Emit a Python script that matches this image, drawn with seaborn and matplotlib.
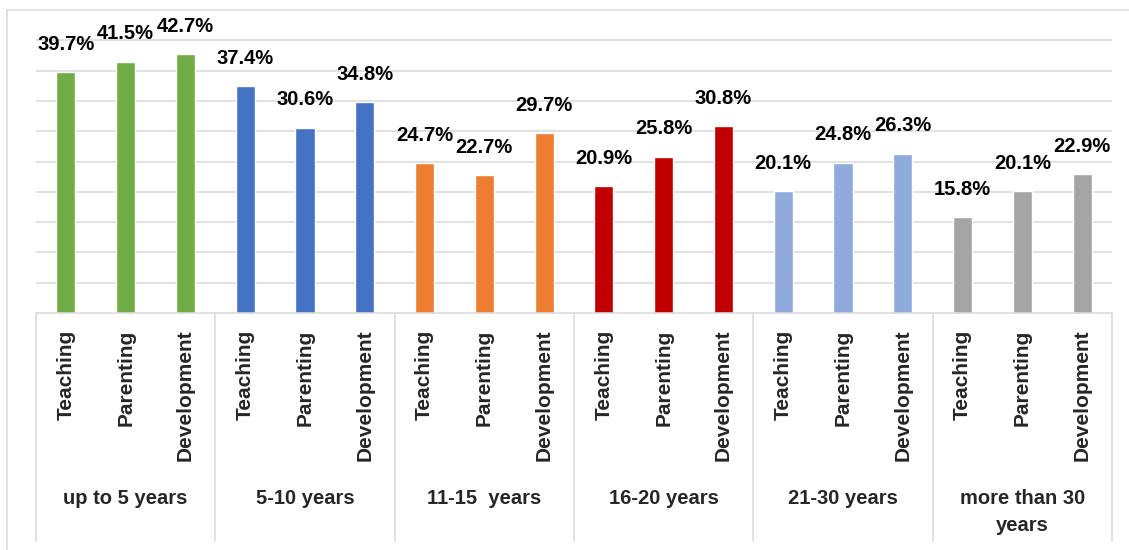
"""Grouped bar chart: teaching / parenting / development by years of experience."""

import matplotlib
matplotlib.use("Agg")
import matplotlib.pyplot as plt
from matplotlib.lines import Line2D
import pandas as pd
import seaborn as sns

groups = ["up to 5 years", "5-10 years", "11-15  years", "16-20 years",
          "21-30 years", "more than 30\nyears"]
aspects = ["Teaching", "Parenting", "Development"]
teaching = [39.7, 37.4, 24.7, 20.9, 20.1, 15.8]
parenting = [41.5, 30.6, 22.7, 25.8, 24.8, 20.1]
development = [42.7, 34.8, 29.7, 30.8, 26.3, 22.9]
group_colors = ["#70AD47", "#4472C4", "#ED7D31", "#C00000", "#8FAADC", "#A5A5A5"]

rows = []
for i, g in enumerate(groups):
    for a, vals in zip(aspects, [teaching, parenting, development]):
        rows.append({"group": g, "aspect": a, "slot": f"{i}-{a}", "value": vals[i]})
df = pd.DataFrame(rows)

sns.set_style("white")
plt.rcParams["font.family"] = ["Liberation Sans", "DejaVu Sans"]
grid_col = "#d9d9d9"

fig = plt.figure(figsize=(11.29, 5.5), dpi=100)
ax = fig.add_axes([36 / 1129, (550 - 313) / 550, (1112 - 36) / 1129, 303 / 550])

sns.barplot(data=df, x="slot", y="value", hue="group", palette=group_colors,
            dodge=False, width=0.32, legend=False, ax=ax, saturation=1)

ax.set_xlim(-0.5, len(df) - 0.5)
ax.set_ylim(0, 50)
ax.set_yticks(range(5, 50, 5))
ax.set_yticklabels([])
ax.yaxis.grid(True, color=grid_col, lw=1.1)
ax.set_axisbelow(True)
ax.tick_params(axis="both", length=0)
for s in ax.spines.values():
    s.set_visible(False)
ax.axhline(0, color=grid_col, lw=1.1, clip_on=False)

# data labels
for bar, v in zip(ax.patches, df["value"]):
    ax.annotate(f"{v}%", (bar.get_x() + bar.get_width() / 2, bar.get_height()),
                xytext=(0, 20), textcoords="offset points", ha="center", va="center",
                fontsize=14.5, fontweight="bold", color="black")

# inner category labels
ax.set_xticks(range(len(df)))
ax.set_xticklabels(df["aspect"], rotation=90, va="top", ha="center",
                   fontsize=15, fontweight="bold")
ax.tick_params(axis="x", pad=12)
ax.set_xlabel("")
ax.set_ylabel("")

# group separators and group labels
trans = ax.get_xaxis_transform()
sep_bottom = -(541 - 313) / 303
for k in range(len(groups) + 1):
    ax.plot([k * 3 - 0.5, k * 3 - 0.5], [0, sep_bottom], color=grid_col, lw=1.1,
            transform=trans, clip_on=False)
for i, g in enumerate(groups):
    ax.text(i * 3 + 1, -(489 - 313) / 303, g, transform=trans, ha="center", va="top",
            fontsize=14.5, fontweight="bold", linespacing=1.55)

# chart area border
fig.add_artist(Line2D([7 / 1129, 7 / 1129], [0, 1 - 10 / 550], color=grid_col, lw=1.1))
fig.add_artist(Line2D([7 / 1129, 1], [1 - 10 / 550, 1 - 10 / 550], color=grid_col, lw=1.1))

fig.savefig("out.png", dpi=100)
